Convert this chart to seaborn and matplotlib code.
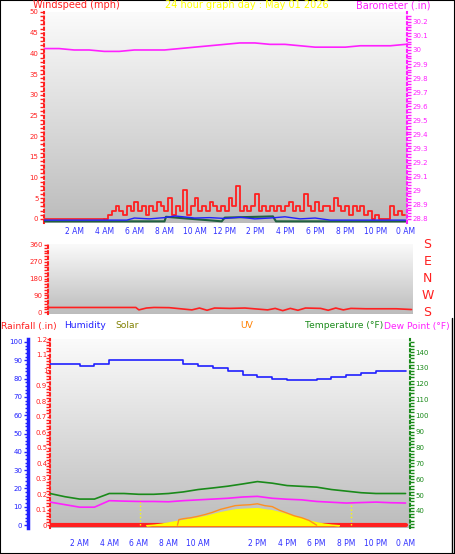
import numpy as np
import pandas as pd
import matplotlib.pyplot as plt
import seaborn as sns

# ---- data ----
hours = list(range(25))
barometer = [30.01, 30.01, 30.00, 30.00, 29.99, 29.99, 30.00, 30.00, 30.00, 30.01, 30.02, 30.03,
             30.04, 30.05, 30.05, 30.04, 30.04, 30.03, 30.02, 30.02, 30.02, 30.03, 30.03, 30.03, 30.04]

gust_hours = [4 + 0.25 * i for i in range(81)]
wind_gust = [0, 1, 2, 3, 2, 1, 3, 2, 4, 2, 3, 1, 3, 2, 4, 3, 2, 5, 1, 3,
             2, 7, 1, 3, 5, 2, 3, 2, 4, 3, 2, 3, 2, 5, 3, 8, 2, 3, 2, 3,
             6, 2, 3, 2, 3, 2, 3, 2, 3, 4, 2, 3, 2, 6, 3, 2, 4, 2, 3, 3,
             2, 5, 3, 2, 3, 1, 3, 2, 3, 1, 2, 0, 1, 0, 0, 0, 3, 1, 2, 1, 1]
wind_avg_hours = [0, 5.5, 6, 7, 8, 8.7, 9.5, 10, 11, 12, 13, 14, 15, 16, 17, 18, 19, 24]
wind_avg = [-0.3, -0.3, 0.2, 0.0, 0.3, 0.7, 0.4, 0.2, 0.3, 0.1, 0.4, 0.0, 0.2, 0.5, 0.0, 0.2, -0.3, -0.3]
calm_hours = [0, 8.0, 8.1, 11.8, 12.0, 15.2, 15.4, 24]
calm = [-0.6, -0.6, 0.5, -0.6, 0.3, 0.6, -0.6, -0.6]

dir_hours = [0, 5.8, 6.0, 6.5, 7, 8, 9.5, 10, 10.5, 11, 12, 13, 14.5, 15, 15.5, 16, 16.5, 17,
             18, 18.5, 19, 19.5, 20, 21, 23, 24]
wind_dir = [25, 25, 12, 22, 25, 24, 12, 22, 10, 22, 20, 22, 12, 20, 8, 20, 10, 22,
            20, 10, 22, 12, 20, 18, 18, 14]

humidity = [88, 88, 87, 88, 90, 90, 90, 90, 90, 88, 87, 86, 84, 82, 81, 80, 79, 79,
            80, 81, 82, 83, 84, 84, 84]
temperature = [51, 49, 47.5, 47.5, 51, 51, 50.5, 50.5, 51, 52, 53.5, 54.5, 55.6, 57, 58.5,
               57.5, 56, 55.5, 55, 53.5, 52.5, 51.5, 51, 51, 51]
dew_point = [45.6, 44, 42.4, 42.4, 46.5, 46.2, 46, 46, 45.8, 46.5, 47, 47.5, 48, 48.8, 49.2,
             48, 47.4, 47, 46, 45.5, 45, 45.3, 45.6, 45.2, 45]
rain = [0] * 25

solar_hours = [6.5, 7, 7.5, 8, 8.5, 9, 9.5, 10, 10.5, 11, 11.5, 12, 12.5, 13, 13.5, 14, 14.5,
               15, 15.5, 16, 16.5, 17, 17.5, 18, 18.5, 19, 19.5]
solar = [0, 0.3, 0.8, 1.5, 2.2, 2.8, 3.5, 4.2, 5, 6, 7, 7.8, 8.5, 8.8, 9, 9.2, 8.5, 8,
         7, 6, 5, 3.8, 2.5, 1.5, 0.8, 0.3, 0]
uv_hours = [8.6, 8.7, 9, 9.5, 10, 10.5, 11, 11.5, 12, 12.5, 13, 13.5, 14, 14.5, 15, 15.5,
            16, 16.5, 17, 17.5, 18]
uv = [0, 3, 3.5, 4, 4.8, 5.8, 7, 8.5, 9.5, 10.5, 10.8, 11, 11.5, 10.5, 10, 8, 6.5, 5, 4, 2.5, 0]
sun_events = [6.1, 20.3]

top_ticks = [2, 4, 6, 8, 10, 12, 14, 16, 18, 20, 22, 24]
top_labels = ['2 AM', '4 AM', '6 AM', '8 AM', '10 AM', '12 PM', '2 PM', '4 PM', '6 PM', '8 PM', '10 PM', '0 AM']
bot_ticks = [2, 4, 6, 8, 10, 14, 16, 18, 20, 22, 24]
bot_labels = ['2 AM', '4 AM', '6 AM', '8 AM', '10 AM', '2 PM', '4 PM', '6 PM', '8 PM', '10 PM', '0 AM']

sns.set_style('white')
plt.rcParams['font.family'] = ['DejaVu Sans']

W, H = 455, 554
fig = plt.figure(figsize=(W / 100, H / 100), dpi=100)
fig.patch.set_facecolor('white')

RED, BLUE, MAG, GREEN = '#ff2020', '#2020ff', '#ff20ff', '#1a8a1a'
TIME_C = '#3030ff'
BG = plt.matplotlib.colors.LinearSegmentedColormap.from_list('bg', ['#fbfbfb', '#bcbcbc'])


def px_axes(left, top, right, bottom):
    return fig.add_axes([left / W, 1 - bottom / H, (right - left) / W, (bottom - top) / H])


def background(ax):
    grad = np.linspace(0, 1, 256).reshape(-1, 1)
    ax.imshow(grad, cmap=BG, extent=[0, 1, 0, 1], origin='upper', transform=ax.transAxes,
              aspect='auto', zorder=0)


def style_axis(ax, color, side='left'):
    for s in ax.spines.values():
        s.set_visible(False)
    ax.spines[side].set_visible(True)
    ax.spines[side].set_color(color)
    ax.spines[side].set_linestyle(':')
    ax.spines[side].set_linewidth(1.5)
    ax.tick_params(axis='y', colors=color, labelsize=5, length=3, width=1, pad=1,
                   which='both', left=(side == 'left'), right=(side == 'right'),
                   labelleft=(side == 'left'), labelright=(side == 'right'))


# ---- top panel: wind speed + barometer ----
ax1 = px_axes(44, 12, 407, 223)
background(ax1)
sns.lineplot(x=gust_hours, y=wind_gust, ax=ax1, color=RED, lw=1.3, drawstyle='steps-post', zorder=3)
ax1.plot([0, 4], [0, 0], color=RED, lw=1.2, zorder=3)
sns.lineplot(x=calm_hours, y=calm, ax=ax1, color='#206040', lw=1.5, zorder=3)
sns.lineplot(x=wind_avg_hours, y=wind_avg, ax=ax1, color=BLUE, lw=1, zorder=4)
ax1.set(xlim=(0, 24.1), ylim=(-1, 50), yticks=range(0, 51, 5))
ax1.set_xticks(top_ticks, top_labels)
ax1.tick_params(axis='x', colors=TIME_C, labelsize=5.5, length=0, pad=3)
style_axis(ax1, RED)
ax1.set_yticks(np.arange(0, 51, 1), minor=True)

ax1b = ax1.twinx()
sns.lineplot(x=hours, y=barometer, ax=ax1b, color=MAG, lw=1.2)
baro_ticks = np.round(np.arange(28.8, 30.21, 0.1), 1)
ax1b.set(ylim=(28.77, 30.27), yticks=baro_ticks)
ax1b.set_yticklabels([f'{v:g}' for v in baro_ticks])
style_axis(ax1b, MAG, 'right')
ax1b.set_yticks(np.arange(28.8, 30.25, 0.02), minor=True)

fig.text(33 / W, 1 - 5 / H, 'Windspeed (mph)', color=RED, fontsize=7, va='center')
fig.text(247 / W, 1 - 5 / H, '24 hour graph day : May 01 2026', color='#ffff00', fontsize=7,
         va='center', ha='center')
fig.text(431 / W, 1 - 5 / H, 'Barometer (.in)', color=MAG, fontsize=7, va='center', ha='right')

# ---- middle panel: wind direction ----
ax2 = px_axes(48, 244, 413, 314)
background(ax2)
sns.lineplot(x=dir_hours, y=wind_dir, ax=ax2, color=RED, lw=1.2)
ax2.set(xlim=(0, 24.1), ylim=(-10, 365), yticks=[0, 90, 180, 270, 360], xticks=[])
style_axis(ax2, RED)
ax2.set_yticks(np.arange(0, 361, 15), minor=True)
for i, letter in enumerate(['S', 'W', 'N', 'E', 'S']):
    ax2.text(1.04, i * 90, letter, color=RED, fontsize=9, va='center', ha='center',
             transform=ax2.get_yaxis_transform())

# ---- bottom panel: rain, humidity, temperature, dew point, solar, uv ----
ax3 = px_axes(50, 339, 410, 528)
background(ax3)
sns.lineplot(x=hours, y=rain, ax=ax3, color=RED, lw=3, zorder=5)
rain_ticks = np.round(np.arange(0, 1.21, 0.1), 1)
ax3.set(xlim=(0, 24.3), ylim=(-0.019, 1.2), yticks=rain_ticks)
ax3.set_yticklabels([f'{v:g}' for v in rain_ticks])
ax3.set_xticks(bot_ticks, bot_labels)
ax3.tick_params(axis='x', colors=TIME_C, labelsize=5.5, length=0, pad=8)
style_axis(ax3, RED)
ax3.tick_params(axis='y', pad=0, length=2)
ax3.set_yticks(np.arange(0, 1.2, 0.02), minor=True)

ax_solar = ax3.twinx()
ax_solar.fill_between(solar_hours, solar, color='#ffff00', zorder=2)
sns.lineplot(x=uv_hours, y=uv, ax=ax_solar, color='#ff9020', lw=1)
for t in sun_events:
    ax_solar.plot([t, t], [0, 14], color='#ffff00', lw=1, ls=':')
ax_solar.set(ylim=(-1.5, 100))
ax_solar.axis('off')

ax3t = ax3.twinx()
sns.lineplot(x=hours, y=temperature, ax=ax3t, color=GREEN, lw=1.2)
sns.lineplot(x=hours, y=dew_point, ax=ax3t, color=MAG, lw=1.2)
ax3t.set(ylim=(29.3, 148.2), yticks=range(40, 141, 10))
style_axis(ax3t, GREEN, 'right')
ax3t.set_yticks(np.arange(30, 148, 2), minor=True)

ax3h = ax3.twinx()
sns.lineplot(x=hours, y=humidity, ax=ax3h, color=BLUE, lw=1.2, drawstyle='steps-post')
ax3h.set(ylim=(-1.6, 101.6), yticks=range(0, 101, 10))
ax3h.spines['left'].set_position(('outward', 16))
style_axis(ax3h, BLUE)
ax3h.spines['left'].set_linestyle('-')
ax3h.spines['left'].set_linewidth(2.5)
ax3h.set_yticks(np.arange(0, 101, 2), minor=True)
ax3h.tick_params(axis='y', which='minor', length=2)

for x, label, c in [(1, 'Rainfall (.in)', RED), (64, 'Humidity', BLUE), (115, 'Solar', '#808000'),
                    (240, 'UV', '#ff8000'), (305, 'Temperature (°F)', GREEN),
                    (384, 'Dew Point (°F)', MAG)]:
    fig.text(x / W, 1 - 326 / H, label, color=c, fontsize=6.6, va='center')

fig.add_artist(plt.Rectangle((0, 0), 1, 1, transform=fig.transFigure, fill=False,
                             edgecolor='black', lw=1.5))
fig.add_artist(plt.Line2D([452 / W, 452 / W], [0, 1 - 318 / H], color='black', lw=1))

fig.savefig('out.png', dpi=100)
